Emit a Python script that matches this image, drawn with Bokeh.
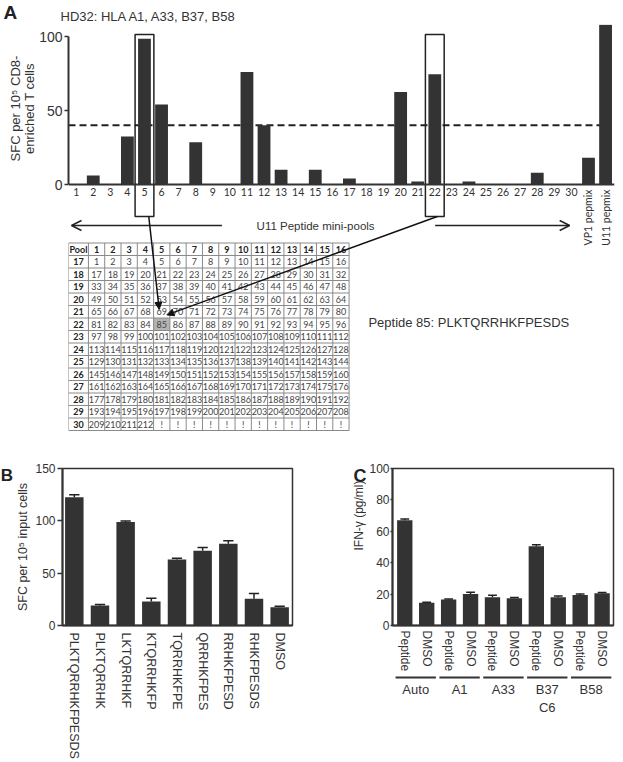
import math
from bokeh.plotting import figure
from bokeh.models import Range1d, FixedTicker, Arrow, NormalHead, OpenHead
from bokeh.layouts import column, row
from bokeh.core.properties import value
from bokeh.embed import file_html
from bokeh.resources import INLINE

# ---------------- data ----------------
# Panel A: ELISpot response to U11 peptide mini-pools (HD32)
pool_labels = ["1", "2", "3", "4", "5", "6", "7", "8", "9", "10",
               "11", "12", "13", "14", "15", "16", "17", "18", "19", "20",
               "21", "22", "23", "24", "25", "26", "27", "28", "29", "30"]
pool_sfc = [0, 6, 0, 32.5, 98.5, 54, 0, 28.5, 0, 0,
            76, 40, 10, 0, 10, 0, 4, 0, 0, 62.5,
            2, 74.5, 0, 2, 0, 0, 0, 8, 0, 0]
control_labels = ["VP1 pepmix", "U11 pepmix"]
control_sfc = [18, 108]
positivity_cutoff = 40
positive_pools = [5, 22]
matrix_row_pools = [17, 18, 19, 20, 21, 22, 23, 24, 25, 26, 27, 28, 29, 30]
matrix_col_pools = [1, 2, 3, 4, 5, 6, 7, 8, 9, 10, 11, 12, 13, 14, 15, 16]
n_peptides = 212
target_peptide = 85
target_sequence = "PLKTQRRHKFPESDS"

# Panel B: truncated peptides
b_peptides = ["PLKTQRRHKFPESDS", "PLKTQRRHK", "LKTQRRHKF", "KTQRRHKFP",
              "TQRRHKFPE", "QRRHKFPES", "RRHKFPESD", "RHKFPESDS", "DMSO"]
b_sfc = [122.5, 19, 99, 23, 63, 71.5, 78, 25.5, 17.5]
b_err = [2.5, 1, 0.8, 3, 1.2, 3, 3, 5, 1]

# Panel C: IFN-gamma by HLA-matched targets
c_groups = ["Auto", "A1", "A33", "B37\nC6", "B58"]
c_conditions = ["Peptide", "DMSO"]
c_ifng = [67, 14.5, 16.5, 20, 18, 17.3, 50.5, 18, 19.5, 20.5]
c_err = [0.8, 0.3, 0.3, 1.2, 1.2, 0.6, 1.0, 0.8, 0.6, 0.5]

# ---------------- style ----------------
INK = "#333333"
BAR = "#333333"
SANS = "Liberation Sans"
NUM = "Lato"
PAGE_W, PAGE_H = 623, 762


def style_axis(ax, size, tick_out=4, standoff=3):
    ax.axis_line_color = INK
    ax.axis_line_width = 2
    ax.major_tick_line_color = INK
    ax.major_tick_line_width = 1.5
    ax.major_tick_out = tick_out
    ax.major_tick_in = 0
    ax.minor_tick_line_color = None
    ax.major_label_text_font = SANS
    ax.major_label_text_font_size = size
    ax.major_label_text_color = INK
    ax.major_label_standoff = standoff
    ax.axis_label_text_font = SANS
    ax.axis_label_text_font_style = "normal"
    ax.axis_label_text_color = INK


def text_panel(x0, y0, w, h):
    """A bare figure used only to hold text; its units are page pixels."""
    p = figure(width=w, height=h, x_range=Range1d(x0, x0 + w), y_range=Range1d(y0 + h, y0),
               min_border_left=0, min_border_right=0, min_border_top=0, min_border_bottom=0,
               x_axis_location=None, y_axis_location=None,
               output_backend="svg", toolbar_location=None)
    p.outline_line_color = None
    p.xgrid.visible = False
    p.ygrid.visible = False
    return p


def put(p, x, y, text, size, align="left", baseline="middle", angle=0, bold=False):
    p.text(x=[x], y=[y], text=[text], angle=angle, text_align=align, text_baseline=baseline,
           text_font=value(SANS), text_font_size=size,
           text_font_style="bold" if bold else "normal",
           text_color="#222222" if bold else INK)


# ================= Panel A (chart + peptide matrix) =================
STRIP_H = 24
GUT_A = 36
A_H = 458 - STRIP_H
FL, FR, FT, FB = 66, 614, STRIP_H, 434          # frame edges, page px
CAT1, CAT_PX = 73.7, 17.14                      # pool 1 centre, px per pool
Y0, UNIT_PX = 184.0, 1.48                       # y=0 position, px per SFC


def ax_(px):
    return 1 + (px - CAT1) / CAT_PX


def ay_(py):
    return (Y0 - py) / UNIT_PX


stripA = text_panel(0, 0, PAGE_W, STRIP_H)
put(stripA, 3, 12, "A", "19px", bold=True)
put(stripA, 60, 15.5, "HD32: HLA A1, A33, B37, B58", "13px")

gutA = text_panel(0, STRIP_H, GUT_A, A_H)
put(gutA, 15, 113, "SFC per 10\u2075 CD8-", "13px", align="center", angle=math.pi / 2)
put(gutA, 28.5, 113, "enriched T cells", "13px", align="center", angle=math.pi / 2)

A_W = PAGE_W - GUT_A
pA = figure(width=A_W, height=A_H,
            x_range=Range1d(ax_(FL), ax_(FR)), y_range=Range1d(ay_(FB), ay_(FT)),
            min_border_left=FL - GUT_A, min_border_right=PAGE_W - FR,
            min_border_top=0, min_border_bottom=458 - FB,
            output_backend="svg", toolbar_location=None)
pA.outline_line_color = None
pA.grid.visible = False

xs_all = list(range(1, len(pool_sfc) + len(control_sfc) + 1))
n_pool = len(pool_sfc)

pA.segment(x0=[ax_(FL)], y0=[positivity_cutoff], x1=[n_pool + 2], y1=[positivity_cutoff],
           line_color="#222222", line_width=2, line_dash="7 4")
pA.vbar(x=xs_all, top=pool_sfc + control_sfc, width=0.75, fill_color=BAR, line_color=None)

# x axis at y = 0
pA.xaxis.fixed_location = 0
pA.xaxis.ticker = FixedTicker(ticks=xs_all[:n_pool])
pA.xaxis.major_label_overrides = {i + 1: lab for i, lab in enumerate(pool_labels)}
style_axis(pA.xaxis, "10.5px", tick_out=0, standoff=3)
pA.xaxis.major_label_text_font = NUM
pA.xaxis.major_tick_line_color = None

pA.yaxis.bounds = (0, 100)
pA.yaxis.ticker = FixedTicker(ticks=[0, 50, 100])
style_axis(pA.yaxis, "14px", tick_out=4, standoff=2)

# vertical control labels
pA.text(x=xs_all[n_pool:], y=[ay_(189)] * len(control_labels), text=control_labels,
        angle=math.pi / 2, text_align="right", text_baseline="middle",
        text_font=value(NUM), text_font_size="10.5px", text_color=INK)

# boxes around positive pools
box_top, box_bot = ay_(34), ay_(216)
for p in positive_pools:
    pA.quad(left=[p - 0.55], right=[p + 0.55], bottom=[box_bot], top=[box_top],
            fill_color=None, line_color="#222222", line_width=1.5)

# mini-pool arrows
ROW_ARROWS = ay_(225)
pA.text(x=[ax_(314)], y=[ROW_ARROWS], text=["U11 Peptide mini-pools"],
        text_align="center", text_baseline="middle",
        text_font=value(SANS), text_font_size="11.5px", text_color=INK)
pA.add_layout(Arrow(end=OpenHead(size=10, line_width=1.5, line_color="#222222"),
                    x_start=ax_(220), y_start=ROW_ARROWS, x_end=ax_(69), y_end=ROW_ARROWS,
                    line_width=1.5, line_color="#222222"))
pA.add_layout(Arrow(end=OpenHead(size=10, line_width=1.5, line_color="#222222"),
                    x_start=ax_(434), y_start=ROW_ARROWS, x_end=ax_(569), y_end=ROW_ARROWS,
                    line_width=1.5, line_color="#222222"))

# peptide matrix
TBL_LEFT = ax_(66)
POOL_W = 20 / CAT_PX
COL_W = 16.35 / CAT_PX
TBL_TOP = ay_(242.5)
ROW_H = 12.5 / UNIT_PX
n_cols = len(matrix_col_pools)
n_rows = len(matrix_row_pools)


def col_left(c):
    return TBL_LEFT if c == 0 else TBL_LEFT + POOL_W + (c - 1) * COL_W


def col_center(c):
    return TBL_LEFT + POOL_W / 2 if c == 0 else TBL_LEFT + POOL_W + (c - 0.5) * COL_W


def row_center(r):
    return TBL_TOP - (r + 0.5) * ROW_H


t_r = (target_peptide - 1) // n_cols + 1
t_c = (target_peptide - 1) % n_cols + 1
pA.quad(left=[col_left(t_c)], right=[col_left(t_c) + COL_W],
        top=[TBL_TOP - t_r * ROW_H], bottom=[TBL_TOP - (t_r + 1) * ROW_H],
        fill_color="#b4b4b4", line_color=None)

vx = [col_left(c) for c in range(n_cols + 1)] + [col_left(n_cols) + COL_W]
hy = [TBL_TOP - r * ROW_H for r in range(n_rows + 2)]
pA.segment(x0=vx, y0=[hy[0]] * len(vx), x1=vx, y1=[hy[-1]] * len(vx),
           line_color="#8a8a8a", line_width=1)
pA.segment(x0=[vx[0]] * len(hy), y0=hy, x1=[vx[-1]] * len(hy), y1=hy,
           line_color="#8a8a8a", line_width=1)

bx, by, bt = [], [], []
nx, ny, nt = [], [], []
bx.append(col_center(0)); by.append(row_center(0)); bt.append("Pool")
for c, cp in enumerate(matrix_col_pools, start=1):
    bx.append(col_center(c)); by.append(row_center(0)); bt.append(str(cp))
for r, rp in enumerate(matrix_row_pools, start=1):
    bx.append(col_center(0)); by.append(row_center(r)); bt.append(str(rp))
    for c in range(1, n_cols + 1):
        num = (r - 1) * n_cols + c
        nx.append(col_center(c)); ny.append(row_center(r))
        nt.append(str(num) if num <= n_peptides else "!")
pA.text(x=bx, y=by, text=bt, text_align="center", text_baseline="middle",
        text_font=value(NUM), text_font_style="bold", text_font_size="9px", text_color="#222222")
pA.text(x=nx, y=ny, text=nt, text_align="center", text_baseline="middle",
        text_font=value(NUM), text_font_size="9px", text_color="#444444")

# connectors from boxed pools to the peptide
head = dict(size=7, fill_color="#111111", line_color="#111111")
pA.add_layout(Arrow(end=NormalHead(**head), x_start=positive_pools[0] + 0.25, y_start=box_bot,
                    x_end=col_center(t_c) - 0.15, y_end=row_center(t_r - 1) + 0.2 * ROW_H,
                    line_width=1.5, line_color="#111111"))
pA.add_layout(Arrow(end=NormalHead(**head), x_start=positive_pools[1] + 0.15, y_start=box_bot,
                    x_end=col_center(t_c) + 0.3, y_end=row_center(t_r - 1) - 0.25 * ROW_H,
                    line_width=1.5, line_color="#111111"))

pA.text(x=[ax_(367)], y=[ay_(322)], text=["Peptide %d: %s" % (target_peptide, target_sequence)],
        text_align="left", text_baseline="middle",
        text_font=value(SANS), text_font_size="13px", text_color=INK)

# ================= Panel B =================
ROW2 = 458
H2 = PAGE_H - ROW2
GUT_B = 13
gutB = text_panel(0, ROW2, GUT_B, H2)
put(gutB, 0.3, 472, "B", "17px", baseline="alphabetic", bold=True)

BFL, BFR, BFT, BFB = 57, 292, 468, 625
B_W = 308 - GUT_B
xb = list(range(1, len(b_peptides) + 1))
pB = figure(width=B_W, height=H2, x_range=Range1d(0.54, 9.5), y_range=Range1d(0, 150),
            min_border_left=BFL - GUT_B, min_border_right=308 - BFR,
            min_border_top=BFT - ROW2, min_border_bottom=PAGE_H - BFB,
            output_backend="svg", toolbar_location=None)
pB.grid.visible = False
pB.outline_line_color = INK
pB.outline_line_width = 1.5
pB.vbar(x=xb, top=b_sfc, width=0.72, fill_color=BAR, line_color=None)
b_hi = [m + e for m, e in zip(b_sfc, b_err)]
pB.segment(x0=xb, y0=b_sfc, x1=xb, y1=b_hi, line_color="#222222", line_width=1.5)
pB.segment(x0=[x - 0.2 for x in xb], y0=b_hi, x1=[x + 0.2 for x in xb], y1=b_hi,
           line_color="#222222", line_width=1.5)
pB.xaxis.ticker = FixedTicker(ticks=xb)
pB.xaxis.major_label_overrides = {x: lab for x, lab in zip(xb, b_peptides)}
style_axis(pB.xaxis, "12.5px", tick_out=0, standoff=7)
pB.xaxis.major_label_orientation = "vertical"
pB.yaxis.ticker = FixedTicker(ticks=[0, 50, 100, 150])
style_axis(pB.yaxis, "12px", tick_out=5, standoff=2)
pB.yaxis.axis_label = "SFC per 10\u2075 input cells"
pB.yaxis.axis_label_text_font_size = "12.5px"
pB.yaxis.axis_label_standoff = 2

# ================= Panel C =================
GUT_C0, GUT_C1 = 308, 366
gutC = text_panel(GUT_C0, ROW2, GUT_C1 - GUT_C0, H2)
put(gutC, 358, 549, "IFN-\u03b3 (pg/ml)", "12px", align="center", angle=math.pi / 2)
put(gutC, 353, 472, "C", "18px", baseline="alphabetic", bold=True)

C_W = PAGE_W - GUT_C1
CFL, CFR, CFT, CFB = 389, 613, 468, 627
C_H = CFB + 47 - ROW2
CG_H = H2 - C_H
xc = list(range(1, len(c_ifng) + 1))
pC = figure(width=C_W, height=C_H, x_range=Range1d(0.44, 10.52), y_range=Range1d(0, 100),
            min_border_left=CFL - GUT_C1, min_border_right=PAGE_W - CFR,
            min_border_top=CFT - ROW2, min_border_bottom=ROW2 + C_H - CFB,
            output_backend="svg", toolbar_location=None)
pC.grid.visible = False
pC.outline_line_color = INK
pC.outline_line_width = 1.5
pC.vbar(x=xc, top=c_ifng, width=0.7, fill_color=BAR, line_color=None)
c_hi = [m + e for m, e in zip(c_ifng, c_err)]
pC.segment(x0=xc, y0=c_ifng, x1=xc, y1=c_hi, line_color="#222222", line_width=1.5)
pC.segment(x0=[x - 0.2 for x in xc], y0=c_hi, x1=[x + 0.2 for x in xc], y1=c_hi,
           line_color="#222222", line_width=1.5)
pC.xaxis.ticker = FixedTicker(ticks=xc)
pC.xaxis.major_label_overrides = {x: c_conditions[(x - 1) % len(c_conditions)] for x in xc}
style_axis(pC.xaxis, "12px", tick_out=0, standoff=5)
pC.xaxis.major_label_orientation = "vertical"
pC.yaxis.ticker = FixedTicker(ticks=[0, 20, 40, 60, 80, 100])
style_axis(pC.yaxis, "12px", tick_out=2, standoff=1)

# group brackets under panel C
pCg = figure(width=C_W, height=CG_H, x_range=pC.x_range, y_range=Range1d(CG_H, 0),
             min_border_left=CFL - GUT_C1, min_border_right=PAGE_W - CFR,
             min_border_top=0, min_border_bottom=0,
             x_axis_location=None, y_axis_location=None,
             output_backend="svg", toolbar_location=None)
pCg.xgrid.visible = False
pCg.ygrid.visible = False
pCg.outline_line_color = None
k = len(c_conditions)
g_first = [xc[i * k] for i in range(len(c_groups))]
g_last = [xc[i * k + k - 1] for i in range(len(c_groups))]
pCg.segment(x0=[a - 0.42 for a in g_first], y0=[3] * len(c_groups),
            x1=[b + 0.42 for b in g_last], y1=[3] * len(c_groups),
            line_color=INK, line_width=1.8)
pCg.text(x=[(a + b) / 2 for a, b in zip(g_first, g_last)], y=[7] * len(c_groups), text=c_groups,
         text_align="center", text_baseline="top",
         text_font=value(SANS), text_font_size="13px", text_color=INK)

layout = column(stripA,
                row(gutA, pA),
                row(gutB, pB, gutC, column(pC, pCg)))
open("out.html", "w").write(file_html(layout, INLINE))
